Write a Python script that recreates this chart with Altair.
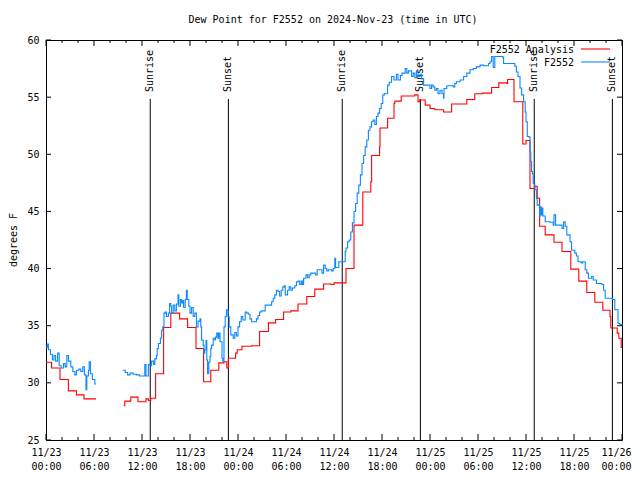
import altair as alt
import pandas as pd

# hours since 2024-11-23 00:00 UTC
red_a_hours = [0, 0.7, 1.75, 2.8, 3.8, 4.75, 6.25]
red_a_vals = [31.8, 31.3, 30.3, 29.3, 28.95, 28.6, 28.6]

red_b_hours = [9.7, 9.85, 10.6, 11.5, 12.5, 12.8, 13.1, 13.7, 14.7, 15.6, 16.7, 17.7, 18.75, 19.7,
               20.6, 21.6, 22.25, 22.6, 22.8, 23.7, 23.9, 24.5, 25.7, 26.7, 27.8, 28.7, 29.7, 30.6,
               31.5, 32.6, 33.6, 34.7, 35.6, 36.0, 37.5, 38.5, 39.6, 40.6, 40.7, 41.7, 41.75, 42.7,
               43.5, 43.6, 44.4, 45.7, 46.1, 46.5, 46.7, 47.4, 48.0, 48.6, 49.7, 50.7, 52.6, 53.6,
               54.6, 55.7, 56.6, 57.6, 57.7, 58.5, 59.6, 60.0, 60.5, 61.1, 61.4, 61.7, 62.4, 63.5,
               64.5, 65.6, 66.6, 67.6, 68.6, 69.6, 70.5, 70.6, 71.4, 71.6, 71.9, 72.0]
red_b_vals = [28.0, 28.4, 28.75, 28.35, 28.6, 28.45, 28.65, 30.8, 34.85, 36.1, 35.6, 34.85, 33.0, 30.1,
              31.1, 31.75, 31.85, 31.3, 32.15, 32.6, 32.9, 33.2, 33.25, 34.5, 35.25, 35.55, 36.2, 36.3,
              36.9, 37.55, 38.2, 38.65, 38.6, 38.75, 40.0, 43.8, 46.7, 47.6, 49.9, 50.7, 52.3, 53.15,
              54.45, 54.65, 55.1, 55.1, 55.2, 54.6, 54.75, 54.3, 54.0, 53.9, 53.7, 54.4, 54.8, 55.3,
              55.35, 55.85, 56.25, 56.2, 56.55, 54.6, 50.9, 51.2, 47.0, 47.2, 46.15, 43.7, 42.95, 42.3,
              41.5, 39.95, 38.9, 37.9, 37.05, 36.35, 35.8, 34.8, 34.35, 33.9, 33.1, 33.1]

blue_a_hours = [0.0, 0.15, 0.3, 0.55, 0.8, 1.0, 1.2, 1.45, 1.65, 1.9, 2.2, 2.4, 2.6, 2.8, 3.1, 3.35,
                3.6, 3.8, 4.1, 4.35, 4.6, 4.8, 5.0, 5.1, 5.3, 5.4, 5.55, 5.8, 6.1, 6.25]
blue_a_vals = [33.1, 33.4, 32.9, 32.5, 32.0, 32.4, 31.9, 32.6, 31.5, 31.3, 31.7, 31.4, 32.4, 31.9, 31.4,
               31.0, 30.7, 31.1, 31.2, 31.0, 31.4, 30.7, 29.4, 30.6, 31.1, 31.85, 30.8, 30.3, 29.9, 29.9]

blue_b_hours = [9.6, 9.9, 10.2, 10.5, 10.9, 11.3, 11.7, 12.35, 12.5, 12.8, 13.0, 13.2, 13.45, 13.6, 13.8,
                13.9, 14.05, 14.3, 14.45, 14.6, 14.75, 14.9, 15.05, 15.3, 15.45, 15.6, 15.7, 15.9, 16.1,
                16.3, 16.5, 16.6, 16.8, 16.95, 17.1, 17.2, 17.4, 17.55, 17.65, 17.85, 18.0, 18.2, 18.4,
                18.6, 18.8, 19.0, 19.25, 19.35, 19.45, 19.65, 19.75, 19.85, 20.0, 20.1, 20.2, 20.35,
                20.5, 20.6, 20.7, 20.9, 21.1, 21.2, 21.35, 21.5, 21.6, 21.75, 22.0, 22.1, 22.25, 22.4,
                22.55, 22.75, 22.9, 23.1, 23.4, 23.6, 23.8, 24.0, 24.2, 24.4, 24.6, 24.9, 25.1, 25.3,
                25.5, 25.7, 26.3, 26.5, 26.7, 26.9, 27.4, 27.8, 28.2, 28.4, 28.6, 28.8, 29.0, 29.2, 29.4,
                29.6, 29.8, 29.9, 30.2, 30.4, 30.6, 30.8, 31.1, 31.3, 31.5, 31.7, 31.9, 32.05, 32.2,
                32.5, 32.7, 32.9, 33.1, 33.5, 33.7, 33.9, 34.3, 34.5, 34.7, 34.9, 35.1, 35.3, 35.5,
                35.7, 35.9, 36.1, 36.2, 36.4, 36.6, 37.2, 37.4, 37.5, 37.7, 37.9, 38.1, 38.3, 38.5,
                38.7, 38.9, 39.1, 39.3, 39.5, 39.7, 39.9, 40.1, 40.3, 40.5, 40.7, 40.9, 41.1, 41.3,
                41.5, 41.7, 41.9, 42.1, 42.3, 42.6, 42.7, 42.9, 43.2, 43.5, 43.8, 44.0, 44.3, 44.5,
                44.7, 44.9, 45.1, 45.3, 45.5, 45.7, 45.9, 46.1, 46.3, 46.5, 46.75, 46.96, 47.2, 47.6,
                48.0, 48.2, 48.4, 48.6, 48.8, 49.0, 49.25, 49.5, 49.7, 49.75, 50.1, 50.9, 51.1, 51.3,
                51.75, 52.2, 52.6, 53.0, 53.4, 53.8, 54.25, 54.7, 55.3, 55.5, 55.7, 55.9, 56.1, 57.1,
                57.2, 58.5, 58.6, 58.8, 59.0, 59.25, 59.45, 59.7, 59.9, 60.0, 60.16, 60.4, 60.5, 60.6,
                60.7, 60.8, 60.9, 61.1, 61.3, 61.4, 61.7, 61.75, 61.9, 62.0, 62.1, 62.4, 63.0, 63.4,
                63.5, 63.7, 64.5, 64.7, 64.9, 65.1, 65.5, 65.7, 66.1, 66.3, 66.5, 66.9, 67.1, 67.4,
                67.6, 67.8, 68.2, 68.4, 68.8, 69.5, 69.7, 69.9, 70.8, 71.1, 71.5, 71.75, 72.0]
blue_b_vals = [31.1, 30.9, 30.7, 30.85, 30.75, 30.7, 30.6, 31.6, 30.6, 31.6, 31.5, 31.9, 31.6, 32.1, 32.4,
               33.0, 33.45, 33.9, 34.6, 34.9, 36.1, 36.2, 35.8, 36.1, 36.95, 36.7, 36.1, 36.8, 36.3,
               36.9, 37.7, 36.7, 37.3, 37.0, 37.2, 36.6, 37.3, 38.1, 37.3, 36.7, 36.1, 36.6, 35.8,
               36.1, 34.9, 35.4, 35.6, 34.9, 33.75, 33.3, 32.6, 32.9, 33.7, 32.0, 30.8, 31.8,
               32.3, 33.0, 33.3, 33.9, 33.75, 34.0, 34.35, 33.9, 34.35, 33.6, 32.15, 31.9, 34.9, 35.8,
               36.4, 35.8, 34.9, 34.2, 33.9, 34.4, 34.1, 34.9, 35.35, 35.8, 35.5, 36.2, 36.1, 36.0,
               35.6, 35.35, 35.6, 35.9, 36.2, 36.3, 36.8, 36.8, 37.1, 37.4, 37.7, 38.1, 38.0, 37.6, 38.1,
               38.4, 38.5, 37.7, 38.1, 38.4, 38.1, 38.3, 38.5, 38.85, 38.9, 38.6, 38.9, 38.6, 39.15,
               39.45, 39.2, 39.45, 39.6, 39.6, 39.45, 39.9, 39.9, 39.6, 40.3, 40.0, 39.8, 39.9, 39.9,
               39.8, 40.0, 40.9, 40.1, 40.1, 40.6, 40.6, 41.5, 41.8, 42.35, 42.5, 43.2, 44.0, 45.0,
               45.7, 46.6, 47.3, 48.2, 49.2, 49.9, 50.65, 51.25, 52.1, 52.4, 52.85, 53.0, 52.6, 53.3,
               53.6, 54.0, 54.45, 55.2, 55.3, 55.3, 56.05, 56.3, 56.8, 56.5, 57.0, 56.5, 56.9, 57.1,
               57.1, 57.5, 57.1, 57.3, 57.3, 56.8, 57.1, 56.7, 57.3, 56.8, 57.0, 56.6, 56.05, 56.05,
               55.75, 56.05, 55.9, 55.6, 55.75, 55.3, 55.6, 55.3, 54.9, 55.75, 56.0, 55.9, 56.2, 56.35,
               56.5, 56.8, 57.1, 57.4, 57.5, 57.65, 57.8, 57.75, 57.95, 58.1, 58.55, 57.6, 58.55, 58.5,
               57.95, 57.95, 57.7, 57.2, 56.8, 55.8, 55.2, 54.6, 53.7, 52.85, 51.55, 51.5, 50.2, 49.35,
               48.5, 48.3, 47.45, 46.9, 46.15, 45.55, 44.55, 45.4, 44.7, 45.3, 44.6, 44.1, 44.05, 43.8,
               44.7, 43.8, 43.5, 44.1, 43.7, 42.95, 42.35, 41.6, 41.35, 41.1, 40.6, 40.5, 40.6, 39.9,
               39.6, 39.15, 39.3, 39.0, 38.7, 38.6, 38.1, 37.4, 37.3, 36.4, 35.2, 35.1, 35.0]

sun_hours = [13.03, 22.8, 37.03, 46.8, 61.03, 70.8]
sun_labels = ["Sunrise", "Sunset", "Sunrise", "Sunset", "Sunrise", "Sunset"]

x_major = list(range(0, 73, 6))
x_minor = [h for h in range(0, 73, 2) if h % 6 != 0]
y_major = [25, 30, 35, 40, 45, 50, 55, 60]

title_text = "Dew Point for F2552 on 2024-Nov-23 (time in UTC)"
y_title = "degrees F"
series_names = ["F2552 Analysis", "F2552"]
series_colors = ["#ff0000", "#0a88ff"]

FONT = "DejaVu Sans Mono"
FS = 10


def seg_df(hours, vals, seg):
    return pd.DataFrame({"h": hours, "v": vals, "seg": seg})


red_df = pd.concat([seg_df(red_a_hours, red_a_vals, "a"), seg_df(red_b_hours, red_b_vals, "b")])
blue_df = pd.concat([seg_df(blue_a_hours, blue_a_vals, "a"), seg_df(blue_b_hours, blue_b_vals, "b")])

x_scale = alt.Scale(domain=[0, 72], nice=False, zero=False)
y_scale = alt.Scale(domain=[25, 60], nice=False, zero=False)
x_axis = alt.Axis(
    values=x_major, title=None, grid=False, domain=False, ticks=False, tickSize=0,
    labelPadding=7, labelFlush=False, labelOverlap=False, labelBound=False,
    labelFont=FONT, labelFontSize=FS, labelColor="black", labelLineHeight=14,
    labelOffset={"expr": "datum.value == 72 ? -6 : 0"},
    labelExpr="['11/' + (23 + floor(datum.value / 24)), (datum.value % 24 < 10 ? '0' : '') + (datum.value % 24) + ':00']",
)
y_axis = alt.Axis(
    values=y_major, title=None, grid=False, domain=False, ticks=False, tickSize=0,
    labelPadding=7, labelFlush=False, labelOverlap=False,
    labelFont=FONT, labelFontSize=FS, labelColor="black",
)
X = alt.X("h:Q", scale=x_scale, axis=x_axis)
Y = alt.Y("v:Q", scale=y_scale, axis=y_axis)

sun_df = pd.DataFrame({"h": sun_hours, "label": sun_labels})
sun_rules = alt.Chart(sun_df).mark_rule(color="black", strokeWidth=1).encode(
    x=X, y=alt.value(59), y2=alt.value(400))
sun_text = alt.Chart(sun_df).mark_text(
    angle=270, align="left", baseline="middle", font=FONT, fontSize=FS, color="black"
).encode(x=X, y=alt.value(52), text="label:N")

red_line = alt.Chart(red_df).mark_line(interpolate="step-after", color=series_colors[0], strokeWidth=1.1).encode(
    x=X, y=Y, detail="seg:N")
blue_line = alt.Chart(blue_df).mark_line(interpolate="step-after", color=series_colors[1], strokeWidth=1.1).encode(
    x=X, y=Y, detail="seg:N")

xmaj_df = pd.DataFrame({"h": x_major})
xmin_df = pd.DataFrame({"h": x_minor})
ymaj_df = pd.DataFrame({"v": y_major})
tick_style = dict(color="black", strokeWidth=1)
ticks = [
    alt.Chart(xmaj_df).mark_rule(**tick_style).encode(x=X, y=alt.value(400), y2=alt.value(394)),
    alt.Chart(xmaj_df).mark_rule(**tick_style).encode(x=X, y=alt.value(0), y2=alt.value(6)),
    alt.Chart(xmin_df).mark_rule(**tick_style).encode(x=X, y=alt.value(400), y2=alt.value(397)),
    alt.Chart(xmin_df).mark_rule(**tick_style).encode(x=X, y=alt.value(0), y2=alt.value(3)),
    alt.Chart(ymaj_df).mark_rule(**tick_style).encode(y=Y, x=alt.value(0), x2=alt.value(5)),
    alt.Chart(ymaj_df).mark_rule(**tick_style).encode(y=Y, x=alt.value(576), x2=alt.value(571)),
]

one = pd.DataFrame({"k": [0]})
texts = [
    alt.Chart(one).mark_text(text=title_text, font=FONT, fontSize=FS, color="black",
                             align="center", baseline="middle").encode(x=alt.value(287), y=alt.value(-20)),
    alt.Chart(one).mark_text(text=y_title, font=FONT, fontSize=FS, color="black", angle=270,
                             align="center", baseline="middle").encode(x=alt.value(-32), y=alt.value(200)),
]
legend = []
for i, (name, col) in enumerate(zip(series_names, series_colors)):
    yy = 10 + 13 * i
    legend.append(alt.Chart(one).mark_text(text=name, font=FONT, fontSize=FS, color="black",
                                           align="right", baseline="middle").encode(
        x=alt.value(528), y=alt.value(yy)))
    legend.append(alt.Chart(one).mark_rule(color=col, strokeWidth=1.1).encode(
        x=alt.value(535), x2=alt.value(564), y=alt.value(yy - 1)))

chart = alt.layer(
    sun_rules, sun_text, red_line, blue_line, *ticks, *texts, *legend
).properties(
    width=576, height=400,
    autosize=alt.AutoSizeParams(type="none"),
    padding={"left": 38, "top": 32, "right": 10, "bottom": 36},
    background="white",
).configure_view(stroke="black", strokeWidth=1)

chart.save("out.html", embed_options={"renderer": "svg", "actions": False})
